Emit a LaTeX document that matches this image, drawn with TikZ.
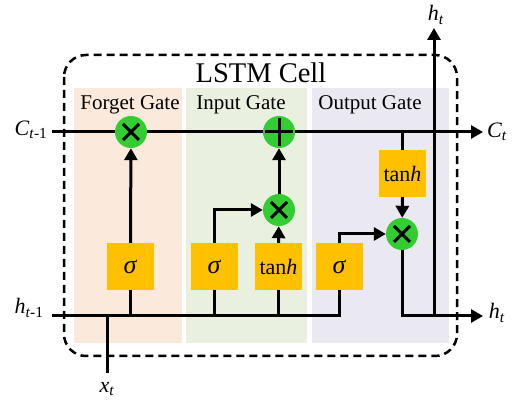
\documentclass[tikz,border=0pt]{standalone}
\usepackage{fontspec}
\setmainfont{Liberation Serif}
\usetikzlibrary{arrows.meta,calc}
\definecolor{fgbg}{HTML}{FBE9DC}
\definecolor{inbg}{HTML}{E9F0E0}
\definecolor{outbg}{HTML}{EAE8F0}
\definecolor{gold}{HTML}{FFC000}
\definecolor{opgreen}{HTML}{33CC33}
\pgfdeclarelayer{back}
\pgfdeclarelayer{mid}
\pgfsetlayers{back,mid,main}
\tikzset{
 wire/.style={line width=3pt},
 arr/.style={wire, -{Triangle[length=12pt,width=13pt]}},
 actbox/.style={fill=gold, minimum width=47pt, minimum height=47pt, inner sep=0pt, font=\fontsize{22}{26}\selectfont},
 op/.style={circle, fill=opgreen, minimum size=32pt, inner sep=0pt},
 iolbl/.style={font=\fontsize{22}{26}\selectfont, inner sep=0pt},
 gatelbl/.style={font=\fontsize{21}{24}\selectfont, inner sep=0pt},
 sym/.style={line width=3pt},
}
\newcommand{\timesmark}[1]{%
  \draw[sym] ($(#1.center)+(-8,-8)$) -- ($(#1.center)+(8,8)$);
  \draw[sym] ($(#1.center)+(-8,8)$) -- ($(#1.center)+(8,-8)$);}
\newcommand{\sig}{{\fontsize{26}{28}\selectfont\textit{σ}}}
\begin{document}
\begin{tikzpicture}[x=1pt,y=-1pt]
\useasboundingbox (0,0) rectangle (515,403);
% backgrounds
\begin{pgfonlayer}{back}
\fill[fgbg] (74,88) rectangle (182,343);
\fill[inbg] (186,88) rectangle (307,343);
\fill[outbg] (312,88) rectangle (449,343);
\draw[line width=2.5pt, dash pattern=on 8pt off 5pt, rounded corners=22pt] (64,55) rectangle (457,356);
\end{pgfonlayer}
% labels
\node[font=\fontsize{28.5}{32}\selectfont] (title) at (261,73) {LSTM Cell};
\node[gatelbl] (fg) at (130,105) {Forget Gate};
\node[gatelbl] (ig) at (241,105) {Input Gate};
\node[gatelbl] (og) at (370,105) {Output Gate};
% coordinates
\coordinate (cin) at (52,132);
\coordinate (cout) at (483,132);
\coordinate (hin) at (52,316);
\coordinate (hout) at (483,316);
\coordinate (xin) at (107,373);
\coordinate (htop) at (434,28);
% ops
\node[op] (fmul) at (131,132) {};
\node[op] (add) at (279,132) {};
\node[op] (imul) at (279,210) {};
\node[op] (omul) at (402,234) {};
\timesmark{fmul}
\timesmark{imul}
\timesmark{omul}
\draw[sym] ($(add.center)+(-14,0)$) -- ($(add.center)+(14,0)$);
\draw[sym] ($(add.center)+(0,-14)$) -- ($(add.center)+(0,14)$);
% activation boxes
\node[actbox] (s1) at (130.5,266.5) {\sig};
\node[actbox] (s2) at (214.5,266.5) {\sig};
\node[actbox] (t1) at (278.5,266.5) {tan\textit{h}};
\node[actbox] (s3) at (339.5,266.5) {\sig};
\node[actbox] (t2) at (402.5,173.5) {tan\textit{h}};
% io labels
\node[iolbl] (lcin) at (31,130) {\textit{C}\textsubscript{\textit{t}-1}};
\node[iolbl] (lcout) at (497,132) {\textit{C}\textsubscript{\textit{t}}};
\node[iolbl] (lhin) at (29,308) {\textit{h}\textsubscript{\textit{t}-1}};
\node[iolbl] (lhout) at (497,313) {\textit{h}\textsubscript{\textit{t}}};
\node[iolbl] (lhtop) at (436,15) {\textit{h}\textsubscript{\textit{t}}};
\node[iolbl] (lx) at (107,389) {\textit{x}\textsubscript{\textit{t}}};
% wires
\begin{pgfonlayer}{mid}
\draw[arr] (cin) -- (cout);
\draw[wire] (hin) -| (s3.south);
\draw[wire] (xin) -- (xin |- hin);
\draw[wire] (s1.south) -- (s1.south |- hin);
\draw[wire] (s2.south) -- (s2.south |- hin);
\draw[wire] (t1.south) -- (t1.south |- hin);
\draw[arr] (s1.north) -- (fmul);
\draw[arr] (s2.north) |- (imul);
\draw[arr] (t1.north) -- (imul);
\draw[arr] (imul) -- (add);
\draw[arr] (s3.north) |- (omul);
\draw[wire] (t2.north) -- (t2.north |- cin);
\draw[arr] (t2.south) -- (omul);
\draw[arr] (omul) |- (hout);
\draw[arr] (htop |- hout) -- (htop);
\end{pgfonlayer}
\end{tikzpicture}
\end{document}
